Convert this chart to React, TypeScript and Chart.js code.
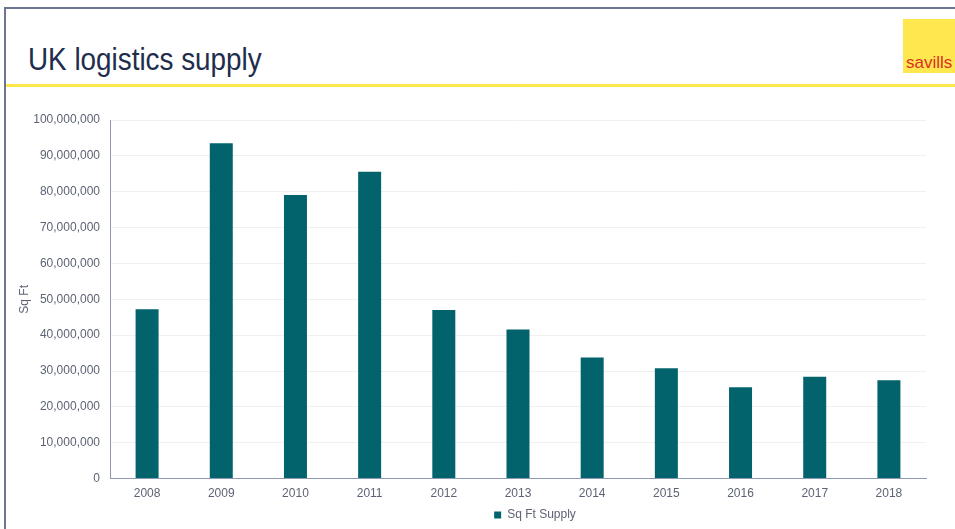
import React, { useEffect, useRef } from "react";
import { Chart, registerables } from "chart.js";

Chart.register(...registerables);

const years = ["2008", "2009", "2010", "2011", "2012", "2013", "2014", "2015", "2016", "2017", "2018"];
const sqFtSupply = [
  47200000, 93500000, 79100000, 85600000, 47000000, 41600000,
  33800000, 30800000, 25500000, 28400000, 27400000,
];
const seriesLabel = "Sq Ft Supply";
const axisTitle = "Sq Ft";
const chartTitle = "UK logistics supply";

const FONT = "'Liberation Sans', Arial, sans-serif";
const TEXT_GREY = "#5d6374";
const AXIS_LINE = "#8e98b2";
const BAR_COLOR = "#03636c";

const shiftLegend = {
  id: "shiftLegend",
  afterLayout(chart: any) {
    const lg = chart.legend;
    if (lg) {
      lg.left += 67;
      lg.right += 67;
    }
  },
};

export default function App() {
  const canvasRef = useRef<HTMLCanvasElement | null>(null);

  useEffect(() => {
    document.body.style.margin = "0";
    const canvas = canvasRef.current;
    if (!canvas) return;
    const chart = new Chart(canvas, {
      type: "bar",
      data: {
        labels: years,
        datasets: [
          {
            label: seriesLabel,
            data: sqFtSupply,
            backgroundColor: BAR_COLOR,
            borderWidth: 0,
            barPercentage: 1,
            categoryPercentage: 0.31,
          },
        ],
      },
      options: {
        responsive: false,
        animation: false,
        layout: { padding: { top: 120, left: 10, right: 29, bottom: -2 } },
        plugins: {
          legend: {
            position: "bottom",
            labels: {
              boxWidth: 7,
              boxHeight: 7,
              padding: 0,
              color: TEXT_GREY,
              font: { family: FONT, size: 12 },
            },
          },
          tooltip: { enabled: false },
        },
        scales: {
          x: {
            grid: { display: true, color: "rgba(0,0,0,0)", drawTicks: false },
            border: { display: true, color: AXIS_LINE, width: 1 },
            ticks: { color: TEXT_GREY, padding: 8, font: { family: FONT, size: 12 } },
          },
          y: {
            min: 0,
            max: 100000000,
            grid: { color: "#f0f0f0", drawTicks: false },
            border: { display: true, color: AXIS_LINE, width: 1 },
            ticks: {
              stepSize: 10000000,
              padding: 10,
              color: TEXT_GREY,
              font: { family: FONT, size: 12 },
              callback: (v: any) => Number(v).toLocaleString("en-US"),
            },
            title: {
              display: true,
              text: axisTitle,
              color: TEXT_GREY,
              font: { family: FONT, size: 12 },
              padding: { top: 7, bottom: 0 },
            },
            afterFit: (scale: any) => {
              scale.width = 100;
            },
          },
        },
      },
      plugins: [shiftLegend],
    });
    return () => chart.destroy();
  }, []);

  return (
    <div
      style={{
        position: "absolute",
        left: 0,
        top: 0,
        width: 955,
        height: 529,
        background: "#ffffff",
        overflow: "hidden",
        fontFamily: FONT,
      }}
    >
      <div style={{ position: "absolute", left: 4, top: 7, width: 951, height: 2, background: "#6b7693" }} />
      <div style={{ position: "absolute", left: 4, top: 7, width: 2, height: 522, background: "#6b7693" }} />
      <div style={{ position: "absolute", left: 6, top: 84, width: 949, height: 3, background: "#fde74c" }} />
      <div
        style={{
          position: "absolute",
          left: 28,
          top: 43,
          fontSize: 32,
          lineHeight: "32px",
          color: "#1f2d4d",
          whiteSpace: "nowrap",
          transform: "scaleX(0.87)",
          transformOrigin: "left top",
        }}
      >
        {chartTitle}
      </div>
      <div
        style={{
          position: "absolute",
          left: 903,
          top: 19,
          width: 52,
          height: 54,
          background: "#ffe84f",
        }}
      >
        <div
          style={{
            position: "absolute",
            left: 3,
            top: 35,
            fontSize: 17,
            lineHeight: "17px",
            color: "#dc2f2a",
            whiteSpace: "nowrap",
          }}
        >
          savills
        </div>
      </div>
      <canvas
        ref={canvasRef}
        width={955}
        height={529}
        style={{ position: "absolute", left: 0, top: 0, width: 955, height: 529 }}
      />
    </div>
  );
}
